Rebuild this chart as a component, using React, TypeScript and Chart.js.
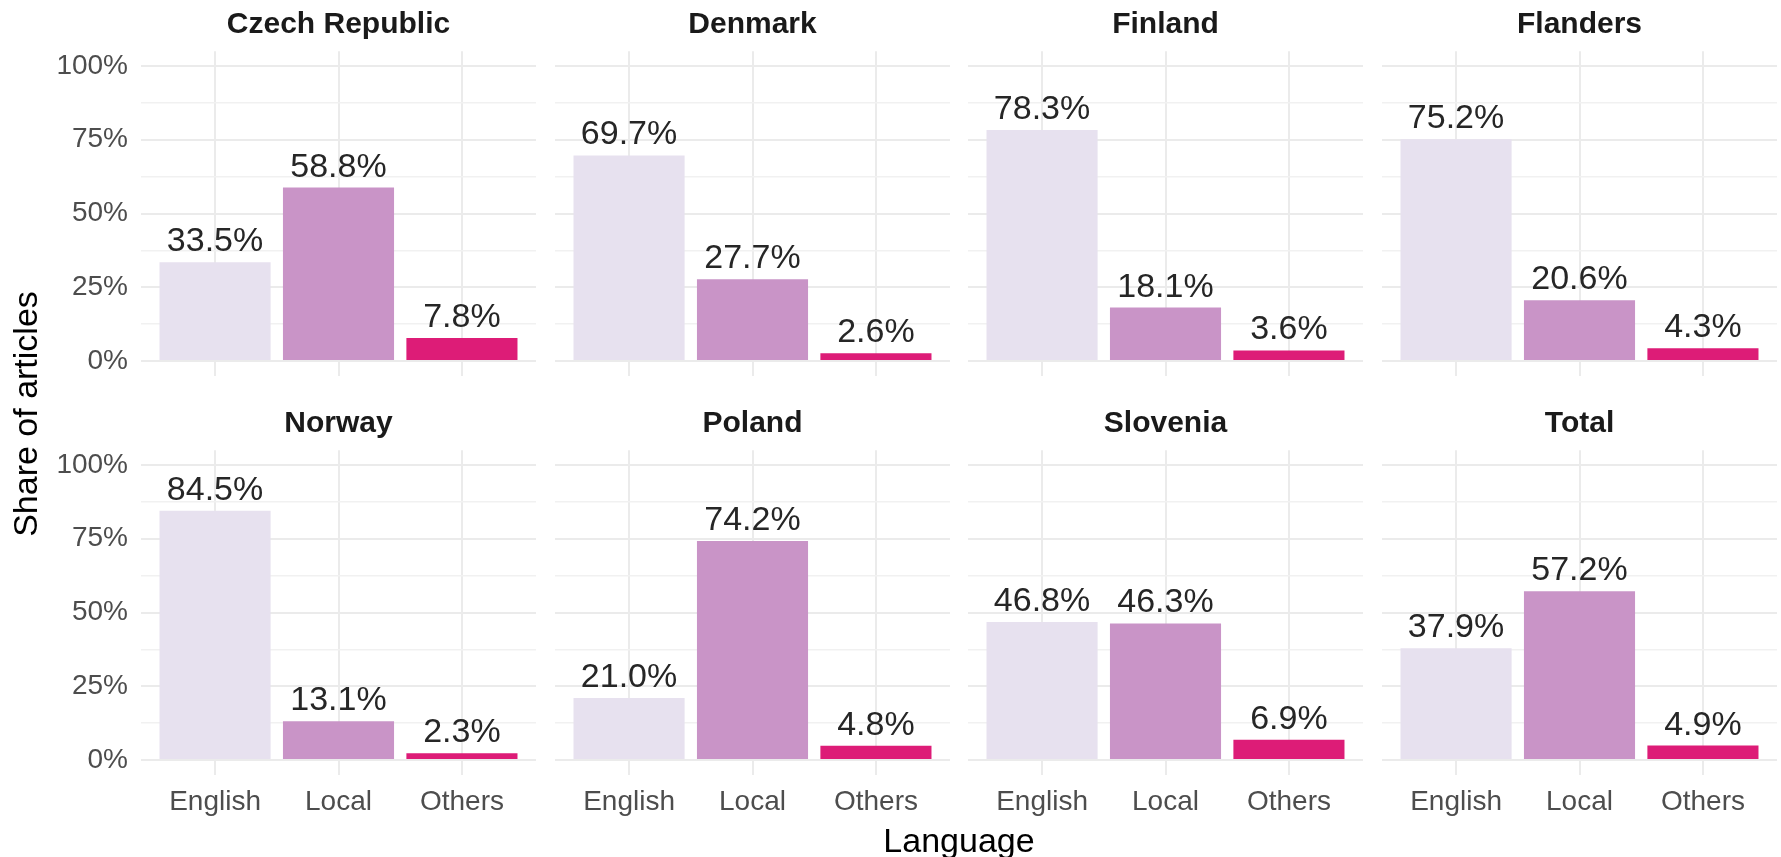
import React, { useEffect, useRef } from 'react';
import { Chart, registerables } from 'chart.js';

Chart.register(...registerables);

// ---- Data ----
const languages = ['English', 'Local', 'Others'];
const countries = ['Czech Republic', 'Denmark', 'Finland', 'Flanders', 'Norway', 'Poland', 'Slovenia', 'Total'];
const czechRepublic = [33.5, 58.8, 7.8];
const denmark = [69.7, 27.7, 2.6];
const finland = [78.3, 18.1, 3.6];
const flanders = [75.2, 20.6, 4.3];
const norway = [84.5, 13.1, 2.3];
const poland = [21.0, 74.2, 4.8];
const slovenia = [46.8, 46.3, 6.9];
const total = [37.9, 57.2, 4.9];
const shares = [czechRepublic, denmark, finland, flanders, norway, poland, slovenia, total];
const yTickValues = [0, 12.5, 25, 37.5, 50, 62.5, 75, 87.5, 100];
const xTickValues = [1, 2, 3];
const yAxisTitle = 'Share of articles';
const xAxisTitle = 'Language';

// ---- Style / layout ----
const barColors = ['#e7e1ef', '#c994c7', '#dd1c77'];
const FONT = "'Liberation Sans', Arial, Helvetica, sans-serif";
const COL_LEFT = [141, 555, 968, 1382];
const PANEL_W = 395;
const ROW_TOP = [51.25, 450.25];
const PANEL_H = 324.5;
const ROW_CANVAS_TOP = [0, 398];
const ROW_CANVAS_H = [408, 427];

function geom(r: number, c: number) {
  const left = c === 0 ? 0 : COL_LEFT[c];
  const width = COL_LEFT[c] + PANEL_W - left;
  const yAxisW = c === 0 ? COL_LEFT[0] : 0;
  const top = ROW_CANVAS_TOP[r];
  const height = ROW_CANVAS_H[r];
  const padTop = ROW_TOP[r] - top;
  let padBottom = 0;
  let xAxisH = 0;
  if (r === 0) {
    padBottom = height - padTop - PANEL_H;
  } else {
    xAxisH = height - padTop - PANEL_H;
  }
  return { left, width, top, height, yAxisW, padTop, padBottom, xAxisH };
}

function panelPlugin(title: string) {
  return {
    id: 'panelDecor',
    afterDatasetsDraw(chart: any) {
      const ctx = chart.ctx;
      const area = chart.chartArea;
      ctx.save();
      // value labels
      ctx.font = `34px ${FONT}`;
      ctx.fillStyle = '#262626';
      ctx.textAlign = 'center';
      ctx.textBaseline = 'alphabetic';
      const meta = chart.getDatasetMeta(0);
      const data = chart.data.datasets[0].data as any[];
      meta.data.forEach((el: any, k: number) => {
        const v = data[k].y as number;
        ctx.fillText(v.toFixed(1) + '%', el.x, el.y - 11);
      });
      // panel title
      ctx.font = `bold 30px ${FONT}`;
      ctx.fillStyle = '#1a1a1a';
      ctx.fillText(title, (area.left + area.right) / 2, area.top - 18);
      ctx.restore();
    },
  };
}

export default function App() {
  const refs = useRef<(HTMLCanvasElement | null)[]>([]);

  useEffect(() => {
    const charts: Chart[] = [];
    countries.forEach((name, i) => {
      const canvas = refs.current[i];
      if (!canvas) return;
      const r = Math.floor(i / 4);
      const c = i % 4;
      const g = geom(r, c);
      const values = shares[i];
      const chart = new Chart(canvas, {
        type: 'bar',
        data: {
          datasets: [
            {
              data: values.map((v, k) => ({ x: k + 1, y: v })),
              backgroundColor: barColors,
              borderWidth: 0,
              barPercentage: 0.9,
              categoryPercentage: 1,
            } as any,
          ],
        },
        options: {
          animation: false,
          responsive: false,
          devicePixelRatio: 1,
          layout: { padding: { top: g.padTop, bottom: g.padBottom, left: 0, right: 0 } },
          plugins: {
            legend: { display: false },
            tooltip: { enabled: false },
            title: { display: false },
          },
          scales: {
            x: {
              type: 'linear',
              min: 0.4,
              max: 3.6,
              offset: false,
              border: { display: false },
              grid: {
                color: '#ebebeb',
                lineWidth: 2,
                drawTicks: false,
                offset: false,
              },
              ticks: {
                display: r === 1,
                autoSkip: false,
                padding: 11,
                color: '#4d4d4d',
                font: { family: FONT, size: 28 },
                maxRotation: 0,
                callback: (v: any) => languages[Number(v) - 1] ?? '',
              },
              afterBuildTicks: (scale: any) => {
                scale.ticks = xTickValues.map((v) => ({ value: v }));
              },
              afterFit: (scale: any) => {
                scale.height = g.xAxisH;
              },
            } as any,
            y: {
              type: 'linear',
              min: -5,
              max: 105,
              border: { display: false },
              grid: {
                color: (ctx: any) => (ctx.tick && ctx.tick.value % 25 === 0 ? '#ebebeb' : '#f1f1f1'),
                lineWidth: (ctx: any) => (ctx.tick && ctx.tick.value % 25 === 0 ? 2 : 1.4),
                drawTicks: false,
              },
              ticks: {
                display: c === 0,
                autoSkip: false,
                padding: 13,
                color: '#4d4d4d',
                font: { family: FONT, size: 28 },
                callback: (v: any) => (Number(v) % 25 === 0 ? `${v}%` : ''),
              },
              afterBuildTicks: (scale: any) => {
                scale.ticks = yTickValues.map((v) => ({ value: v }));
              },
              afterFit: (scale: any) => {
                scale.width = g.yAxisW;
              },
            } as any,
          },
        },
        plugins: [panelPlugin(name)],
      });
      charts.push(chart);
    });
    return () => charts.forEach((ch) => ch.destroy());
  }, []);

  return (
    <div
      style={{
        position: 'absolute',
        left: 0,
        top: 0,
        width: 1781,
        height: 857,
        background: '#ffffff',
        overflow: 'hidden',
        fontFamily: FONT,
      }}
    >
      {countries.map((name, i) => {
        const r = Math.floor(i / 4);
        const c = i % 4;
        const g = geom(r, c);
        return (
          <canvas
            key={name}
            ref={(el) => {
              refs.current[i] = el;
            }}
            width={g.width}
            height={g.height}
            style={{ position: 'absolute', left: g.left, top: g.top, width: g.width, height: g.height }}
          />
        );
      })}
      <div
        style={{
          position: 'absolute',
          left: 759,
          top: 820,
          width: 400,
          height: 40,
          lineHeight: '40px',
          fontSize: 34,
          textAlign: 'center',
          color: '#000000',
          whiteSpace: 'nowrap',
        }}
      >
        {xAxisTitle}
      </div>
      <div
        style={{
          position: 'absolute',
          left: 25 - 200,
          top: 414 - 20,
          width: 400,
          height: 40,
          lineHeight: '40px',
          fontSize: 34,
          textAlign: 'center',
          color: '#000000',
          whiteSpace: 'nowrap',
          transform: 'rotate(-90deg)',
          transformOrigin: 'center center',
        }}
      >
        {yAxisTitle}
      </div>
    </div>
  );
}
